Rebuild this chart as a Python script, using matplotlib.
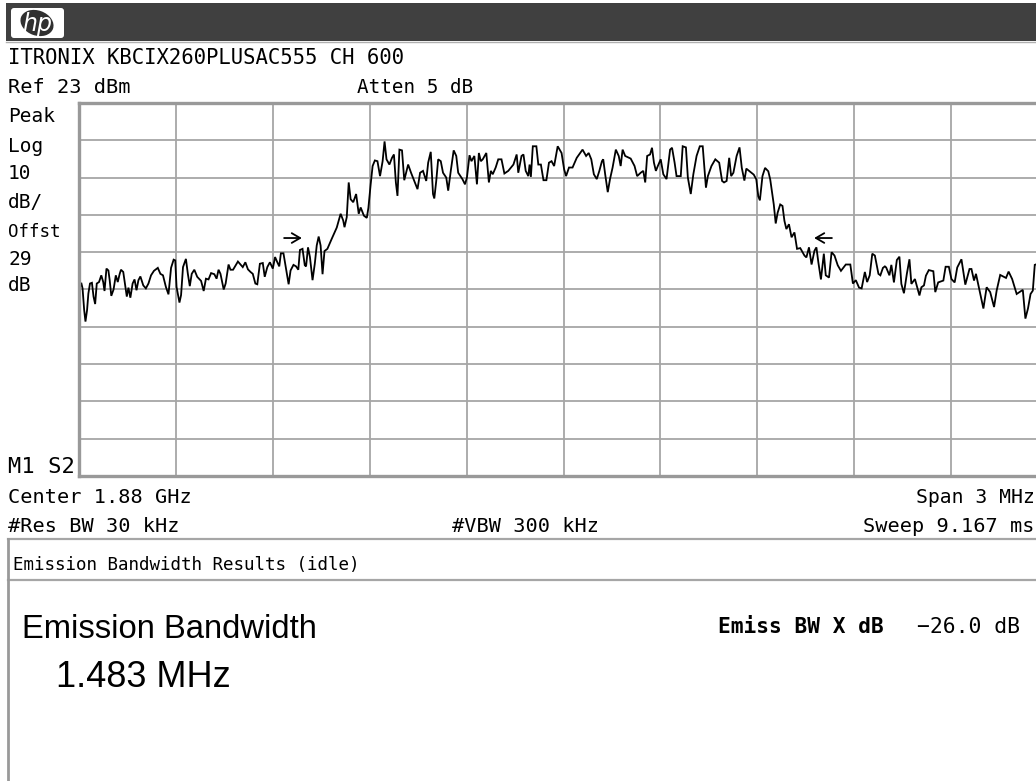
import matplotlib
matplotlib.use("Agg")
import matplotlib.pyplot as plt
from matplotlib.patches import FancyBboxPatch, Ellipse, Rectangle

# Trace: offset from centre in kHz and level in dBm
trace_khz = [
    -1499, -1493, -1489, -1484, -1480, -1475, -1471, -1466, -1460, -1455, -1450, -1445, -1438, -1431, -1425, -1421,
    -1415, -1409, -1405, -1400, -1393, -1386, -1380, -1374, -1370, -1363, -1357, -1352, -1347, -1341, -1334, -1328,
    -1322, -1316, -1310, -1301, -1293, -1285, -1277, -1268, -1256, -1248, -1240, -1231, -1223, -1215, -1207, -1202,
    -1198, -1189, -1184, -1178, -1169, -1163, -1157, -1151, -1143, -1134, -1122, -1114, -1107, -1099, -1091, -1081,
    -1074, -1068, -1062, -1052, -1046, -1037, -1031, -1023, -1008,
    -993, -985, -977, -969, -962, -954, -948, -940, -931, -925, -917, -909, -900, -893, -886, -880, -875, -867, -859,
    -851, -845, -836, -828, -821, -816, -808, -801, -797, -791, -785, -777, -770, -764, -758, -752, -746, -740, -731,
    -718, -702, -690, -682, -678, -671, -665, -659, -651, -642, -634, -628, -618, -609, -604, -597, -591, -584, -576,
    -568, -560, -554, -548, -539, -531, -525, -519, -514, -508, -500, -493,
    -481, -472, -462, -452, -444, -435, -425, -419, -411, -404, -400, -394, -388, -380, -373, -363, -357, -349, -340,
    -332, -326, -313, -305, -299, -291, -285, -276, -268, -262, -256, -250, -239, -231, -225, -219, -210, -202, -192,
    -183, -171, -155, -145, -140, -130, -124, -117, -109, -105, -101, -95, -84, -78, -70, -62, -53, -45, -37, -29,
    -18, -6, 2, 8, 17,
    28, 41, 59, 70, 78, 86, 94, 103, 111, 119, 123, 129, 137, 144, 152, 162, 171, 177, 183, 191, 208, 220, 228, 239,
    247, 253, 259, 268, 274, 280, 286, 292, 301, 309, 319, 330, 336, 344, 350, 363, 369, 379, 385, 394, 402, 412,
    422, 431, 437, 441, 447, 458, 470, 482, 491, 497, 505, 513, 519, 526, 536,
    545, 552, 560, 566, 576, 589, 597, 603, 608, 616, 624, 634, 640, 645, 651, 657, 663, 671, 678, 684, 690, 698,
    706, 715, 723, 733, 746, 752, 760, 768, 777, 783, 789, 797, 806, 812, 822, 830, 839, 849, 859, 874, 888, 896,
    905, 915, 923, 933, 940, 948, 956, 964, 975, 981, 989, 995,
    999, 1009, 1015, 1023, 1032, 1040, 1046, 1054, 1063, 1071, 1077, 1088, 1102, 1108, 1116, 1122, 1131, 1145, 1151,
    1160, 1170, 1176, 1183, 1193, 1201, 1211, 1219, 1232, 1244, 1257, 1263, 1271, 1277, 1288, 1300, 1310, 1321, 1333,
    1341, 1352, 1370, 1378, 1389, 1403, 1422, 1430, 1438, 1446, 1453, 1459, 1465]
trace_dbm = [
    -27.0, -25.2, -26.7, -32.5, -35.6, -32.5, -28.1, -25.4, -25.2, -28.9, -30.9, -25.4, -25.0, -23.2, -25.0, -27.4,
    -21.4, -21.9, -24.5, -28.7, -27.0, -23.2, -25.0, -22.8, -21.7, -22.3, -25.9, -28.9, -26.5, -29.2, -25.4, -24.3,
    -27.2, -24.5, -23.5, -25.9, -26.7, -25.4, -23.2, -22.0, -21.2, -22.8, -23.2, -26.3, -28.3, -21.2, -19.0, -19.2,
    -26.3, -30.5, -28.5, -21.0, -18.8, -22.8, -26.1, -22.8, -21.7, -23.6, -24.7, -27.4, -24.1, -24.3, -22.6, -22.9,
    -24.1, -21.7, -22.8, -27.0, -25.4, -20.3, -21.7, -21.7, -19.5,
    -21.0, -19.7, -21.6, -22.3, -22.8, -25.4, -25.6, -20.1, -19.9, -23.6, -21.0, -19.7, -21.4, -18.3, -19.7, -20.8,
    -17.3, -17.3, -21.4,
    -25.6, -21.9, -20.4, -20.8, -21.7, -16.4, -16.1, -20.5, -20.8, -15.7, -18.3, -24.5, -20.1, -15.2, -12.8, -15.2,
    -22.9, -16.7, -16.1,
    -13.5, -10.4, -6.7, -8.5, -10.3, -7.6, 1.7, -2.8, -3.6, -1.4, -6.7, -5.0, -7.2, -7.8, -5.1, 1.2, 6.1, 7.6, 7.4,
    3.4, 7.4, 12.7, 7.9, 6.5, 8.3, 9.2, 1.7, -1.9, 10.5, 10.3, 2.3,
    6.5, 4.3, 2.1, -0.1, 4.3, 4.8, 2.1, 7.0, 9.9, -1.4, -2.6, 2.1, 7.9, 7.4, 4.3, 3.0, -0.5, 4.8, 10.3,
    8.8, 4.3, 2.6, 1.2, 3.0, 9.0, 7.4, 8.8, 1.2, 9.6, 7.4, 7.9, 9.6, 1.7, 4.8, 3.9, 5.7, 7.9, 7.9,
    4.1, 4.8, 6.5, 9.2, 4.3, 8.8, 9.2, 4.8, 3.4, 6.5, 3.2, 11.4, 11.4, 6.5, 6.5, 2.3, 2.3, 7.0, 7.4, 6.1,
    11.4, 9.6, 5.2, 3.4, 5.7,
    5.7, 8.3, 10.5, 8.8, 9.6, 7.9, 3.9, 2.6, 4.8, 7.4, 7.9, 3.9, -0.9, 2.6, 5.7, 10.5, 8.8, 6.1, 10.5, 8.8, 8.1, 6.1,
    3.4, 4.3,
    4.8, 1.7, 8.8, 9.2, 11.0, 7.0, 4.8, 6.1, 7.9, 3.9, 2.6, 10.5, 11.0, 7.0, 3.4, 3.4, 11.4, 11.1, 3.0, -1.4, 3.9, 8.8,
    11.4, 11.4, 4.8, 0.3, 3.4, 6.1, 7.9, 7.0, 2.1, 1.7, 2.1, 8.3, 3.4, 4.3, 8.8,
    11.1, 5.6, 2.2, 5.4, 4.7, 3.8, 2.5, -2.0, -3.1, 3.4, 5.6, 4.7, 2.5, -0.6, -4.2, -9.3, -6.4, -4.2, -4.6, -8.6,
    -10.8, -9.5,
    -13.0, -11.7, -16.1, -15.9, -17.9, -18.4, -15.7, -20.3, -16.6, -15.7, -19.7, -24.3, -17.4, -23.2, -23.8, -17.0,
    -17.9, -20.5, -22.0, -20.3, -20.3, -25.4,
    -24.5, -26.5, -26.7, -22.3, -25.0, -23.2, -17.4, -17.9, -22.8, -23.2, -21.2, -20.8,
    -21.1, -23.2, -20.4, -25.1, -19.1, -18.2, -25.5, -28.0, -22.8, -18.9, -25.5, -24.2, -28.6, -26.4, -25.9, -23.3,
    -21.8, -22.1, -27.7,
    -25.1, -24.8, -24.6, -20.9, -20.9, -24.2, -25.1, -21.1, -18.9, -25.7, -21.5, -21.5, -24.6, -22.8, -27.3, -32.1,
    -26.4, -27.7, -31.7,
    -27.3, -23.1, -23.9, -22.2, -24.2, -28.2, -27.1, -34.8, -32.1, -28.2, -27.3, -20.4, -20.2]

# Screen graticule: 10 divisions of 300 kHz, 10 divisions of 10 dB from the 23 dBm reference
freq_ticks = [-1500, -1200, -900, -600, -300, 0, 300, 600, 900, 1200, 1500]
level_ticks = [23, 13, 3, -7, -17, -27, -37, -47, -57, -67, -77]

# Emission bandwidth arrows: (tail, tip) in kHz and their level
lower_arrow = (-865, -810)
upper_arrow = (831, 776)
arrow_level = -13.2

GREY = "#a6a6a6"
MONO = "DejaVu Sans Mono"

fig = plt.figure(figsize=(10.36, 7.81), dpi=100)

# the screen is cut off on the right, so the axes runs past the figure edge
ax = fig.add_axes([79 / 1036, 1 - 476 / 781, 969 / 1036, 373 / 781])
ax.set_xlim(-1500, 1500)
ax.set_ylim(-77, 23)
ax.set_xticks(freq_ticks)
ax.set_yticks(level_ticks)
ax.tick_params(length=0, labelbottom=False, labelleft=False)
ax.grid(color=GREY, linewidth=1.3)
ax.set_axisbelow(True)
for spine in ax.spines.values():
    spine.set_color("#999999")
    spine.set_linewidth(2.4)
ax.plot(trace_khz, trace_dbm, color="black", linewidth=1.3, solid_joinstyle="miter")

for tail, tip in [lower_arrow, upper_arrow]:
    ax.annotate("", xy=(tip, arrow_level), xytext=(tail, arrow_level),
                arrowprops=dict(arrowstyle="->,head_length=0.6,head_width=0.35", color="black", lw=1.3,
                                shrinkA=0, shrinkB=0))

# Everything around the graticule sits on an overlay in screen pixels
ov = fig.add_axes([0, 0, 1, 1], zorder=-1)
ov.set_xlim(0, 1036)
ov.set_ylim(781, 0)
ov.axis("off")

ov.add_patch(Rectangle((6, 3), 1030, 38, color="#404040", linewidth=0))
ov.plot([6, 1036], [42, 42], color="#b0b0b0", linewidth=1)
ov.add_patch(FancyBboxPatch((12, 9), 51, 28, boxstyle="round,pad=1,rounding_size=3", facecolor="white",
                            edgecolor="none"))
ov.add_patch(Ellipse((37, 23), 34, 25, angle=20, color="#303030", linewidth=0))
ov.text(37, 23.5, "hp", color="white", fontsize=17, style="italic", family="DejaVu Sans", ha="center", va="center")

ov.plot([8, 1036], [539, 539], color=GREY, linewidth=1.6)
ov.plot([8, 1036], [580, 580], color=GREY, linewidth=1.6)
ov.plot([8, 8], [539, 781], color="#999999", linewidth=2)

labels = [
    (8, 64, "ITRONIX KBCIX260PLUSAC555 CH 600", 14.9),
    (8, 93, "Ref 23 dBm", 14.6),
    (357, 93, "Atten 5 dB", 13.9),
    (8, 122, "Peak", 14),
    (8, 152, "Log", 14),
    (8, 179, "10", 14),
    (8, 208, "dB/", 14),
    (8, 237, "Offst", 12.6),
    (8, 265, "29", 14),
    (8, 291, "dB", 14),
    (8, 473, "M1 S2", 15.9),
    (8, 503, "Center 1.88 GHz", 14.6),
    (8, 532, "#Res BW 30 kHz", 14.6),
    (452, 532, "#VBW 300 kHz", 14.6),
    (863, 532, "Sweep 9.167 ms", 14.6),
]
for x, y, label, size in labels:
    ov.text(x, y, label, fontsize=size, family=MONO, va="baseline")
ov.text(1035, 503, "Span 3 MHz", fontsize=14.2, family=MONO, va="baseline", ha="right")

ov.text(13, 570, "Emission Bandwidth Results (idle)", fontsize=12.6, family=MONO, va="baseline")
ov.text(22, 638, "Emission Bandwidth", fontsize=23.6, family="Liberation Sans", va="baseline")
ov.text(56, 687, "1.483 MHz", fontsize=26, family="Liberation Sans", va="baseline")
ov.text(718, 633, "Emiss BW X dB", fontsize=15.2, family=MONO, weight="bold", va="baseline")
ov.text(917, 633, "−26.0 dB", fontsize=15.4, family=MONO, va="baseline")

fig.savefig("out.png", dpi=100, facecolor="white")
